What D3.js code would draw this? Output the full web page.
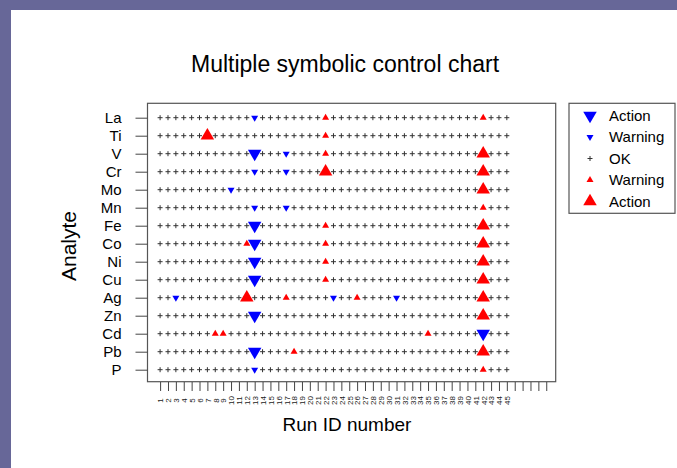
<!DOCTYPE html>
<html>
<head>
<meta charset="utf-8">
<script src="https://cdn.jsdelivr.net/npm/d3@7"></script>
<style>
  body { margin: 0; }
  text { font-family: "Liberation Sans", Arial, sans-serif; }
</style>
</head>
<body>
<div id="chart"></div>
<script>
// analytes, top to bottom
const analytes = ["La", "Ti", "V", "Cr", "Mo", "Mn", "Fe", "Co", "Ni", "Cu", "Ag", "Zn", "Cd", "Pb", "P"];

// run ids that have a point, and the tick positions on the axis
const runs = [1, 2, 3, 4, 5, 6, 7, 8, 9, 10, 11, 12, 13, 14, 15, 16, 17, 18, 19, 20, 21, 22, 23,
  24, 25, 26, 27, 28, 29, 30, 31, 32, 33, 34, 35, 36, 37, 38, 39, 40, 41, 42, 43, 44, 45];
const tickRuns = [1, 2, 3, 4, 5, 6, 7, 8, 9, 10, 11, 12, 13, 14, 15, 16, 17, 18, 19, 20, 21, 22, 23,
  24, 25, 26, 27, 28, 29, 30, 31, 32, 33, 34, 35, 36, 37, 38, 39, 40, 41, 42, 43, 44, 45,
  46, 47, 48, 49, 50];

// flagged points [analyte, run]; everything else is OK
const actionLow = [["V", 13], ["Fe", 13], ["Co", 13], ["Ni", 13], ["Cu", 13], ["Zn", 13], ["Pb", 13], ["Cd", 42]];
const warningLow = [["La", 13], ["V", 17], ["Cr", 13], ["Cr", 17], ["Mo", 10], ["Mn", 13], ["Mn", 17],
  ["Ag", 3], ["Ag", 23], ["Ag", 31], ["P", 13]];
const warningHigh = [["La", 22], ["La", 42], ["Ti", 22], ["V", 22], ["Mn", 42], ["Fe", 22], ["Co", 12], ["Co", 22],
  ["Ni", 22], ["Cu", 22], ["Ag", 17], ["Ag", 26], ["Cd", 8], ["Cd", 9], ["Cd", 35], ["Pb", 18], ["P", 42]];
const actionHigh = [["Ti", 7], ["V", 42], ["Cr", 22], ["Cr", 42], ["Mo", 42], ["Fe", 42], ["Co", 42], ["Ni", 42],
  ["Cu", 42], ["Ag", 12], ["Ag", 42], ["Zn", 42], ["Pb", 42]];

const legendLabels = ["Action", "Warning", "OK", "Warning", "Action"];

const W = 677, H = 468;
const box = { left: 147.5, right: 555.7, top: 103.3, bottom: 381.7 };

// lookup of status by analyte|run
var statusMap = {};
var addFlags = function (list, kind) {
  for (var i = 0; i < list.length; i++) {
    statusMap[list[i][0] + "|" + list[i][1]] = kind;
  }
};
addFlags(actionLow, "aLow");
addFlags(warningLow, "wLow");
addFlags(warningHigh, "wHigh");
addFlags(actionHigh, "aHigh");

// triangle centred on its centroid
var tri = function (w, h, up) {
  var s = up ? 1 : -1;
  return "M0," + (-s * 2 * h / 3) + "L" + (w / 2) + "," + (s * h / 3) + "L" + (-w / 2) + "," + (s * h / 3) + "Z";
};
const styles = {
  aLow: { d: tri(13.5, 11.5, false), fill: "#0000ff" },
  wLow: { d: tri(7, 6, false), fill: "#0000ff" },
  wHigh: { d: tri(7, 6, true), fill: "#ff0000" },
  aHigh: { d: tri(13.5, 11.5, true), fill: "#ff0000" }
};
const plusPath = "M-2.5,0H2.5M0,-2.5V2.5";

const x = d3.scaleLinear().domain([-0.6, 51.2]).range([box.left, box.right]);
const y = d3.scalePoint().domain(analytes).range([117.7, 369.7]);

const svg = d3.select("#chart").append("svg").attr("width", W).attr("height", H);

// page frame
svg.append("rect").attr("width", W).attr("height", H).attr("fill", "#676798");
svg.append("rect").attr("x", 11).attr("y", 10).attr("width", W - 11).attr("height", H - 10).attr("fill", "#fff");

// title
svg.append("text").attr("x", 345).attr("y", 72).attr("text-anchor", "middle")
  .attr("font-size", 23).text("Multiple symbolic control chart");

// plot box
svg.append("rect").attr("x", box.left).attr("y", box.top)
  .attr("width", box.right - box.left).attr("height", box.bottom - box.top)
  .attr("fill", "none").attr("stroke", "#555").attr("stroke-width", 1.2);

// y axis
const yAxis = svg.append("g").attr("transform", "translate(" + box.left + ",0)")
  .call(d3.axisLeft(y).tickSize(12).tickPadding(14));
yAxis.select(".domain").remove();
yAxis.selectAll("line").attr("stroke", "#444");
yAxis.selectAll("text").attr("font-size", 15).attr("fill", "#000")
  .attr("font-family", "Liberation Sans, Arial, sans-serif");

// x axis, labels only for the runs
const xAxis = svg.append("g").attr("transform", "translate(0,382)")
  .call(d3.axisBottom(x).tickValues(tickRuns).tickSize(9)
    .tickFormat(function (d) { return runs.indexOf(d) >= 0 ? d : ""; }));
xAxis.select(".domain").remove();
xAxis.selectAll("line").attr("stroke", "#444");
xAxis.selectAll("text").attr("y", null).attr("dy", "0.35em")
  .attr("transform", "translate(0,18.5) rotate(-90)").attr("text-anchor", "middle")
  .attr("font-size", 8).attr("fill", "#222")
  .attr("font-family", "Liberation Sans, Arial, sans-serif");

// axis titles
svg.append("text").attr("x", 347).attr("y", 431).attr("text-anchor", "middle")
  .attr("font-size", 19).text("Run ID number");
svg.append("text").attr("transform", "translate(76,246) rotate(-90)").attr("text-anchor", "middle")
  .attr("font-size", 21).text("Analyte");

// points
var cells = [];
analytes.forEach(function (a) {
  runs.forEach(function (r) {
    cells.push({ analyte: a, run: r, kind: statusMap[a + "|" + r] || "ok" });
  });
});

svg.append("g").selectAll("path")
  .data(cells)
  .enter()
  .append("path")
  .attr("transform", function (d) { return "translate(" + x(d.run) + "," + y(d.analyte) + ")"; })
  .attr("d", function (d) { return d.kind === "ok" ? plusPath : styles[d.kind].d; })
  .attr("fill", function (d) { return d.kind === "ok" ? "none" : styles[d.kind].fill; })
  .attr("stroke", function (d) { return d.kind === "ok" ? "#333" : "none"; })
  .attr("stroke-width", 1);

// legend
const legendKinds = ["aLow", "wLow", "ok", "wHigh", "aHigh"];
const legendY = [115.5, 137, 158.5, 180, 201.5];
const legend = svg.append("g");
legend.append("rect").attr("x", 569).attr("y", 103.3).attr("width", 106).attr("height", 110)
  .attr("fill", "#fff").attr("stroke", "#555").attr("stroke-width", 1.2);
legendKinds.forEach(function (k, i) {
  legend.append("path")
    .attr("transform", "translate(590," + legendY[i] + ")")
    .attr("d", k === "ok" ? plusPath : styles[k].d)
    .attr("fill", k === "ok" ? "none" : styles[k].fill)
    .attr("stroke", k === "ok" ? "#333" : "none");
  legend.append("text").attr("x", 609).attr("y", legendY[i] + 5.3)
    .attr("font-size", 15).text(legendLabels[i]);
});
</script>
</body>
</html>
